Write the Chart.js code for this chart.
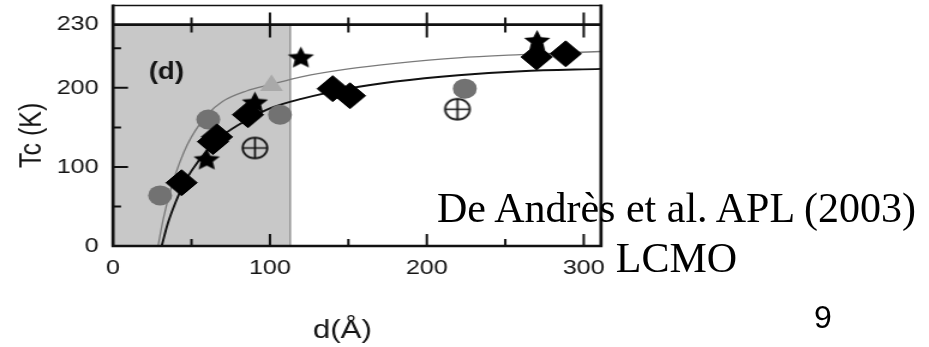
<!DOCTYPE html>
<html>
<head>
<meta charset="utf-8">
<script src="https://cdn.jsdelivr.net/npm/chart.js@4.4.1/dist/chart.umd.min.js"></script>
<style>
  html, body { margin: 0; padding: 0; background: #fff; overflow: hidden; }
  #stage { position: relative; width: 929px; height: 347px; overflow: hidden; background: #fff; }
  /* the figure itself is drawn a little narrower and widened horizontally */
  #plot { position: absolute; left: 0; top: 0; transform: scaleX(1.2); transform-origin: 0 0; filter: blur(0.4px); }
  #ref {
    position: absolute; left: 426px; top: 183px; width: 501px;
    font-family: "Liberation Serif", "Times New Roman", serif;
    font-size: 42px; line-height: 50.4px; color: #000;
    text-align: center; white-space: nowrap;
  }
  #page {
    position: absolute; left: 814px; top: 301px;
    font-family: "Liberation Sans", Arial, sans-serif;
    font-size: 32px; line-height: 32px; color: #000;
  }
</style>
</head>
<body>
<div id="stage">
  <div id="plot"><canvas id="c" width="775" height="347"></canvas></div>
  <div id="ref">De Andrès et al. APL (2003)<br>LCMO</div>
  <div id="page">9</div>
</div>
<script>
// Film thickness d (Å) and transition temperature Tc (K)
const diamondD  = [43.7, 63.7, 66.2, 86, 140, 151, 270, 288.5];
const diamondTc = [80, 132, 138, 166, 199, 190, 239, 243];
const starD  = [59.7, 90.4, 119.7, 270.3];
const starTc = [110, 182, 239, 260];
const circleD  = [30, 60.7, 106.4, 224.2];
const circleTc = [64, 160, 166, 199];
const triangleD  = [101];
const triangleTc = [203];
const crossD  = [90.4, 219.5];
const crossTc = [124, 173];

// fitted curves
const upperFitD  = [28.7, 32, 36, 40, 45, 50, 60, 70, 85, 100, 120, 150, 180, 220, 260, 311];
const upperFitTc = [0, 34, 66, 92, 118, 138, 166, 183, 196, 204, 214, 224, 231, 238, 242, 246];
const lowerFitD  = [31, 35, 40, 45, 50, 60, 70, 85, 100, 120, 150, 180, 220, 260, 311];
const lowerFitTc = [0, 29, 56, 78, 95, 121, 140, 159, 174, 186, 199, 208, 216, 221, 224];

// thin-film region shaded grey
const shadedLimit = 113;

// axes
const xTickValues = [0, 100, 200, 300];
const xTickLabels = ['0', '100', '200', '300'];
const xTickMarks  = [50, 100, 150, 200, 250, 300];
const yTickValues = [0, 100, 200, 280];
const yTickLabels = ['0', '100', '200', '230'];
const yTickMarks  = [50, 100, 150, 200, 250];
const xTitle = 'd(Å)';
const yTitle = 'Tc (K)';
const panelLabel = '(d)';

const pts = (xs, ys) => xs.map((x, i) => ({ x: x, y: ys[i] }));

function starImage(r, color) {
  const inner = r * 0.47;
  const size = Math.ceil(2 * r + 2);
  const c = document.createElement('canvas');
  c.width = size; c.height = size;
  const g = c.getContext('2d');
  g.translate(size / 2, size / 2 + 0.095 * r);
  g.beginPath();
  for (let i = 0; i < 10; i++) {
    const rr = i % 2 ? inner : r;
    const a = -Math.PI / 2 + i * Math.PI / 5;
    g.lineTo(rr * Math.cos(a), rr * Math.sin(a));
  }
  g.closePath();
  g.fillStyle = color;
  g.fill();
  return c;
}

function crossCircleImage(r, lw, color) {
  const size = Math.ceil(2 * r + lw + 2);
  const c = document.createElement('canvas');
  c.width = size; c.height = size;
  const g = c.getContext('2d');
  g.translate(size / 2, size / 2);
  g.strokeStyle = color;
  g.lineWidth = lw;
  g.beginPath();
  g.arc(0, 0, r, 0, Math.PI * 2);
  g.moveTo(-r, 0); g.lineTo(r, 0);
  g.moveTo(0, -r); g.lineTo(0, r);
  g.stroke();
  return c;
}

const FONT = '"Liberation Sans", Arial, sans-serif';
const INK = '#141414';

const framePlugin = {
  id: 'frame',
  beforeDatasetsDraw(chart) {
    const { ctx, chartArea: a, scales: { x } } = chart;
    const xr = x.getPixelForValue(shadedLimit);
    ctx.save();
    ctx.fillStyle = '#c8c8c8';
    ctx.fillRect(a.left, a.top, xr - a.left, a.bottom - a.top);
    ctx.strokeStyle = '#707070';
    ctx.lineWidth = 1;
    ctx.beginPath();
    ctx.moveTo(xr, a.top);
    ctx.lineTo(xr, a.bottom);
    ctx.stroke();
    ctx.restore();
  },
  afterDatasetsDraw(chart) {
    const { ctx, chartArea: a, scales: { x, y } } = chart;
    ctx.save();
    ctx.strokeStyle = '#111';
    ctx.lineCap = 'butt';
    // edge of the panel above
    ctx.lineWidth = 1.5;
    ctx.beginPath();
    ctx.moveTo(a.left, 5.5);
    ctx.lineTo(a.right, 5.5);
    ctx.stroke();
    // axes box
    ctx.lineWidth = 2.7;
    ctx.beginPath();
    ctx.moveTo(a.left, 4.5); ctx.lineTo(a.left, a.bottom);
    ctx.moveTo(a.right, 4.5); ctx.lineTo(a.right, a.bottom);
    ctx.moveTo(a.left, a.top); ctx.lineTo(a.right, a.top);
    ctx.moveTo(a.left - 1.3, a.bottom); ctx.lineTo(a.right + 1.3, a.bottom);
    ctx.stroke();
    // inward tick marks
    ctx.lineWidth = 2;
    ctx.beginPath();
    yTickMarks.forEach(v => {
      const p = y.getPixelForValue(v);
      const len = v % 100 === 0 ? 12.5 : 6.7;
      ctx.moveTo(a.left, p); ctx.lineTo(a.left + len, p);
    });
    xTickMarks.forEach(v => {
      const p = x.getPixelForValue(v);
      const major = v % 100 === 0;
      ctx.moveTo(p, a.bottom); ctx.lineTo(p, a.bottom - (major ? 12 : 7));
      ctx.moveTo(p, a.top - (major ? 12 : 7)); ctx.lineTo(p, a.top + (major ? 13 : 8));
    });
    ctx.stroke();
    // panel label
    ctx.fillStyle = INK;
    ctx.font = 'bold 23px ' + FONT;
    ctx.textAlign = 'center';
    ctx.textBaseline = 'alphabetic';
    ctx.fillText(panelLabel, x.getPixelForValue(34), y.getPixelForValue(211));
    // x axis title
    ctx.font = '26px ' + FONT;
    ctx.fillText(xTitle, a.left + (a.right - a.left) * 0.47, 338);
    ctx.restore();
  }
};

new Chart(document.getElementById('c'), {
  type: 'scatter',
  data: {
    datasets: [
      {
        label: 'fit (upper)', data: pts(upperFitD, upperFitTc), showLine: true,
        borderColor: '#7a7a7a', borderWidth: 1.3, pointRadius: 0,
        cubicInterpolationMode: 'monotone', order: 10
      },
      {
        label: 'fit (lower)', data: pts(lowerFitD, lowerFitTc), showLine: true,
        borderColor: '#111', borderWidth: 1.9, pointRadius: 0,
        cubicInterpolationMode: 'monotone', order: 9
      },
      {
        label: 'circles', data: pts(circleD, circleTc), pointStyle: 'circle',
        pointRadius: 10, backgroundColor: '#727272', borderWidth: 0, order: 8
      },
      {
        label: 'triangles', data: pts(triangleD, triangleTc), pointStyle: 'triangle',
        pointRadius: 11, backgroundColor: '#a9a9a9', borderWidth: 0, order: 7
      },
      {
        label: 'diamonds', data: pts(diamondD, diamondTc), pointStyle: 'rectRot',
        pointRadius: 13, backgroundColor: '#000', borderColor: '#000', borderWidth: 1, order: 5
      },
      {
        label: 'stars', data: pts(starD, starTc), pointStyle: starImage(11.5, '#000'),
        pointRadius: 11, order: 4
      },
      {
        label: 'crossed circles', data: pts(crossD, crossTc),
        pointStyle: crossCircleImage(10.3, 1.7, '#111'), pointRadius: 11, order: 3
      }
    ]
  },
  options: {
    responsive: false,
    animation: false,
    devicePixelRatio: 1,
    events: [],
    layout: { padding: { left: 0, top: 22, right: 775 - 500.83, bottom: 0 } },
    plugins: { legend: { display: false }, tooltip: { enabled: false } },
    scales: {
      x: {
        type: 'linear', min: 0, max: 311,
        grid: { display: false, drawTicks: false },
        border: { display: false },
        afterBuildTicks: s => { s.ticks = xTickValues.map(v => ({ value: v })); },
        afterFit: s => { s.height = 101; },
        ticks: {
          padding: 10, autoSkip: false, maxRotation: 0, color: INK,
          font: { family: FONT, size: 21 },
          callback: v => xTickLabels[xTickValues.indexOf(v)]
        }
      },
      y: {
        type: 'linear', min: 0, max: 280,
        grid: { display: false, drawTicks: false },
        border: { display: false },
        afterBuildTicks: s => { s.ticks = yTickValues.map(v => ({ value: v })); },
        afterFit: s => { s.width = 94.17; },
        title: {
          display: true, text: yTitle, color: INK,
          font: { family: FONT, size: 25 }, padding: { top: 12, bottom: 0 }
        },
        ticks: {
          padding: 12, autoSkip: false, color: INK,
          font: { family: FONT, size: 21 },
          callback: v => yTickLabels[yTickValues.indexOf(v)]
        }
      }
    }
  },
  plugins: [framePlugin]
});
</script>
</body>
</html>
